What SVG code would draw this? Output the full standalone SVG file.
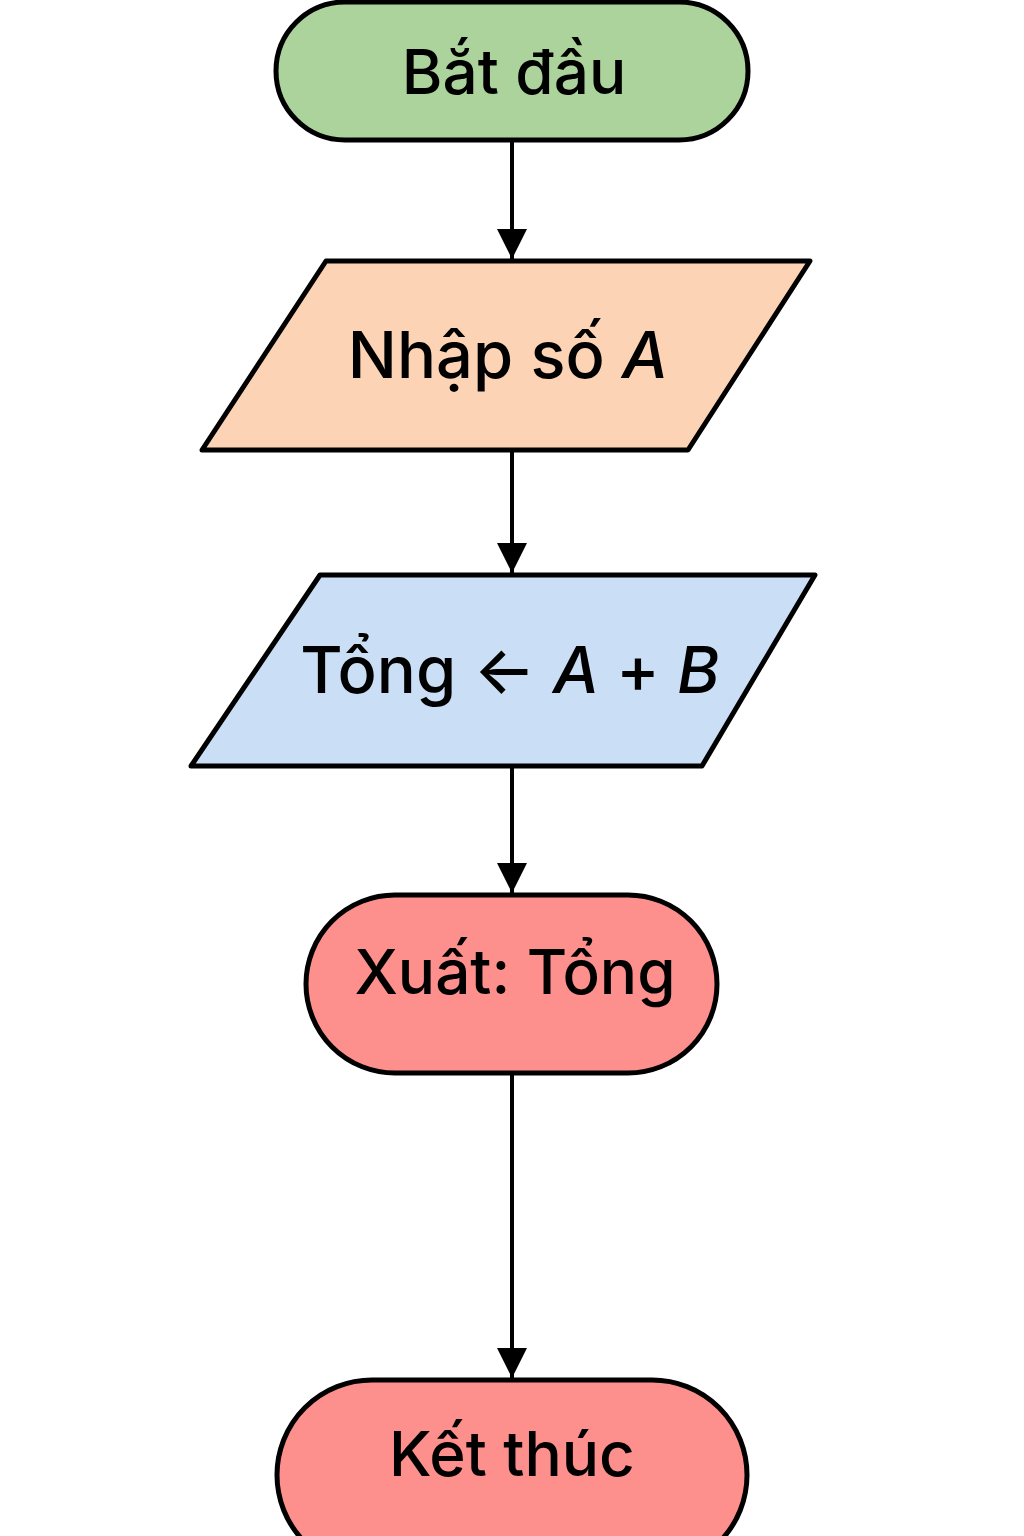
<svg xmlns="http://www.w3.org/2000/svg" width="1024" height="1536" viewBox="0 0 1024 1536">
<style>
.shape{stroke:#000;stroke-width:5;stroke-linejoin:round}
.lbl{font-family:Inter,"Noto Sans",sans-serif;font-size:62px;font-weight:500;fill:#000;text-anchor:middle}
.big{font-size:65px}
.conn{stroke:#000;stroke-width:4;fill:none}
</style>
<defs>
<marker id="ah" viewBox="0 0 30 36" refX="30" refY="15" markerWidth="30" markerHeight="36" markerUnits="userSpaceOnUse" orient="auto">
<path d="M0,0 L30,15 L0,30 Z" fill="#000"/>
</marker>
</defs>
<rect width="1024" height="1536" fill="#fff"/>
<g id="connectors">
<line class="conn" x1="512" y1="140" x2="512" y2="259" marker-end="url(#ah)"/>
<line class="conn" x1="512" y1="450" x2="512" y2="573" marker-end="url(#ah)"/>
<line class="conn" x1="512" y1="766" x2="512" y2="893" marker-end="url(#ah)"/>
<line class="conn" x1="512" y1="1073" x2="512" y2="1378" marker-end="url(#ah)"/>
</g>
<g id="start">
<rect class="shape" x="276" y="2" width="472" height="138" rx="69" fill="#acd39c"/>
<text class="lbl" x="514" y="94">Bắt đầu</text>
</g>
<g id="input">
<polygon class="shape" points="326,261 810,261 688,450 202,450" fill="#fdd3b5"/>
<text class="lbl big" x="508" y="378">Nhập số <tspan font-style="italic">A</tspan></text>
</g>
<g id="process">
<polygon class="shape" points="320,575 815,575 702,766 191,766" fill="#cadff5"/>
<text class="lbl big" x="510" y="693">Tổng ← <tspan font-style="italic">A</tspan> + <tspan font-style="italic">B</tspan></text>
</g>
<g id="output">
<rect class="shape" x="306" y="895" width="411" height="178" rx="89" fill="#fd8f8c"/>
<text class="lbl" x="515" y="994">Xuất: Tổng</text>
</g>
<g id="end">
<rect class="shape" x="277" y="1380" width="470" height="190" rx="95" fill="#fd8f8c"/>
<text class="lbl" x="512" y="1476">Kết thúc</text>
</g>
</svg>
